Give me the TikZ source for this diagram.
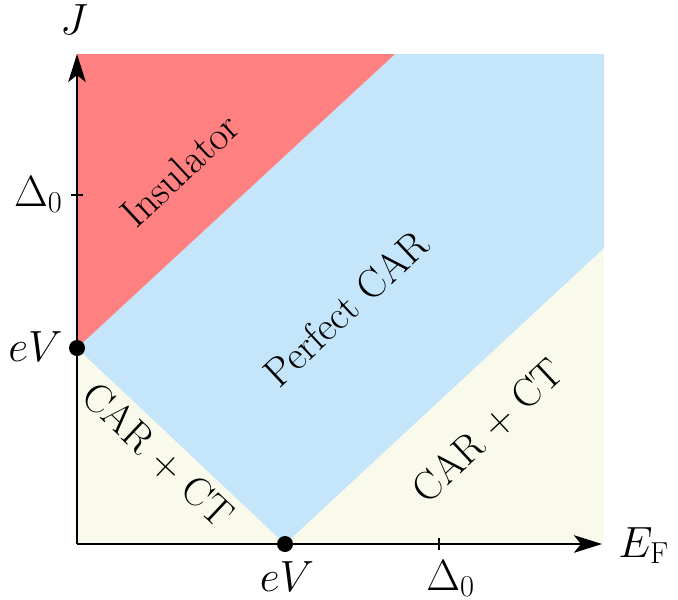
\documentclass[tikz,border=0pt]{standalone}
\usetikzlibrary{arrows.meta}
\definecolor{insred}{RGB}{255,128,128}
\definecolor{carblue}{RGB}{196,229,250}
\definecolor{ctcream}{RGB}{249,249,236}
\begin{document}
\begin{tikzpicture}[x=0.02cm,y=-0.02cm,
  font=\fontsize{23}{28}\selectfont,
  axis/.style={line width=1.1pt,-{Stealth[length=16pt,width=10pt,inset=4pt]}},
  tick/.style={line width=1.1pt},
  dot/.style={circle,fill=black,inner sep=0pt,minimum size=0.32cm},
  axislabel/.style={inner sep=0pt},
  regionlabel/.style={inner sep=0pt}]
\useasboundingbox (0,0) rectangle (678,599);
% corners of the plot region
\coordinate (O) at (77,544);
\coordinate (TL) at (77,54);
\coordinate (TR) at (604,54);
\coordinate (RT) at (395,54);
\coordinate (RE) at (604,248);
\coordinate (JV) at (77,348);
\coordinate (EV) at (285,544);
\coordinate (Xend) at (602,544);
\coordinate (Yend) at (77,54);
% regions
\fill[ctcream] (O) rectangle (TR);
\fill[carblue] (JV) -- (RT) -- (TR) -- (RE) -- (EV) -- cycle;
\fill[insred] (JV) -- (TL) -- (RT) -- cycle;
% axes
\draw[axis] (O) -- (Xend);
\draw[axis] (O) -- (Yend);
% ticks
\coordinate (ty1) at (71,195);
\coordinate (ty2) at (83,195);
\coordinate (tx1) at (439,538);
\coordinate (tx2) at (439,550);
\draw[tick] (ty1) -- (ty2);
\draw[tick] (tx1) -- (tx2);
% dots
\node[dot] (dJ) at (JV) {};
\node[dot] (dE) at (EV) {};
% axis labels
\node[axislabel,anchor=base] (J) at (74,34) {$J$};
\node[axislabel,anchor=base west] (EF) at (618,557) {$E_{\mathrm{F}}$};
\node[axislabel,anchor=base] (eVx) at (287,591) {$eV$};
\node[axislabel,anchor=base west] (D0x) at (426,590) {$\Delta_0$};
\node[axislabel,anchor=base east] (eVy) at (63,361) {$eV$};
\node[axislabel,anchor=base east] (D0y) at (63,206) {$\Delta_0$};
% region labels
\node[regionlabel,rotate=43] (ins) at (180,170) {Insulator};
\node[regionlabel,rotate=43] (pcar) at (346,308) {Perfect CAR};
\node[regionlabel,rotate=-43.3] (ct1) at (158,455) {CAR + CT};
\node[regionlabel,rotate=43] (ct2) at (488,431) {CAR + CT};
\end{tikzpicture}
\end{document}
